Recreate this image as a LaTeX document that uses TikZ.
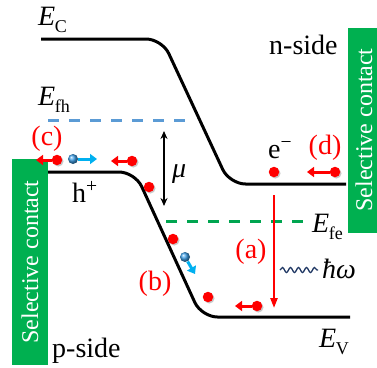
\documentclass[tikz,border=0pt]{standalone}
\usepackage{fontspec}
\setmainfont{LiberationSerif}[Extension=.ttf, UprightFont=*-Regular, ItalicFont=*-Italic, BoldFont=*-Bold, BoldItalicFont=*-BoldItalic]
\usetikzlibrary{arrows.meta,shadows,decorations.pathmorphing}
\definecolor{cgreen}{HTML}{00B050}
\definecolor{dashblue}{HTML}{5B9BD5}
\definecolor{dashgreen}{HTML}{00A550}
\definecolor{ballblue}{HTML}{3FA0E8}
\definecolor{arrblue}{HTML}{00B0F0}
\definecolor{navy}{HTML}{203864}
\definecolor{myred}{HTML}{FF0000}
\newcommand{\Elab}[1]{\textit{E}\kern-0.5pt\raisebox{-0.28em}{\fontsize{18}{18}\selectfont #1}}
\begin{document}
\begin{tikzpicture}[x=1pt,y=-1pt,
  band/.style={line width=3pt, rounded corners=16pt},
  fermi/.style={line width=3pt, dash pattern=on 11pt off 10pt},
  lbl/.style={font=\fontsize{28}{32}\selectfont, inner sep=0pt},
  redlbl/.style={lbl, text=myred},
  contact/.style={fill=cgreen, draw=none},
  contacttext/.style={font=\fontsize{24}{28}\selectfont, text=white, rotate=90, inner sep=0pt},
  rdot/.style={circle, fill=myred, inner sep=0pt, minimum size=10.5pt,
     drop shadow={shadow xshift=1.3pt, shadow yshift=-1.3pt, opacity=0.3, fill=black!70}},
  bdot/.style={circle, inner sep=0pt, minimum size=10pt, ball color=ballblue},
  rarr/.style={myred, line width=3pt, -{Triangle[length=7pt,width=10pt]}},
  barr/.style={arrblue, line width=3pt, -{Triangle[length=7pt,width=10pt]}}
]
\useasboundingbox (0,0) rectangle (377,367);

% contacts
\fill[contact] (12,159) rectangle (48,365);
\node[contacttext] (lct) at (30,262) {Selective contact};
\fill[contact] (348,28) rectangle (377,233);
\node[contacttext] (rct) at (364,130) {Selective contact};

% bands
\draw[band] (41,39) -- (162,39) -- (229.5,184) -- (346,184);
\draw[band] (48,172) -- (135,172) -- (201.5,317) -- (350,317);

% quasi-Fermi levels
\draw[fermi, dashblue] (48,120) -- (187,120);
\draw[fermi, dashgreen] (166,221) -- (306,221);

% level labels
\node[lbl, anchor=base west] (ec) at (38,25) {\Elab{C}};
\node[lbl, anchor=base west] (efh) at (38,105) {\Elab{fh}};
\node[lbl, anchor=base west] (efe) at (312,232) {\Elab{fe}};
\node[lbl, anchor=base west] (ev) at (319,347) {\Elab{V}};
\node[lbl, anchor=base west] (nside) at (269,54) {n-side};
\node[lbl, anchor=base west] (pside) at (52,357) {p-side};
\node[lbl, anchor=base west] (hp) at (72,202) {h\textsuperscript{+}};
\node[lbl, anchor=base west] (em) at (268,158) {e\textsuperscript{−}};
\node[lbl, anchor=base west] (mu) at (172,177) {\textit{μ}};
\node[lbl, anchor=base west] (hw) at (322,278) {\textit{ħω}};

% process labels
\node[redlbl] (la) at (251,252) {(a)};
\node[redlbl] (lb) at (155,284) {(b)};
\node[redlbl] (lc) at (47,139) {(c)};
\node[redlbl] (ld) at (325,148) {(d)};

% mu arrow
\coordinate (mutop) at (164,131);
\coordinate (mubot) at (164,206);
\draw[line width=1.5pt, {Stealth[length=8pt,width=7pt]}-{Stealth[length=8pt,width=7pt]}] (mutop) -- (mubot);

% recombination arrow (a)
\coordinate (atop) at (274,195);
\coordinate (abot) at (274,308);
\draw[myred, line width=2.2pt, -{Triangle[length=10pt,width=7pt]}] (atop) -- (abot);

% photon
\coordinate (ph1) at (280,270);
\coordinate (ph2) at (318,270);
\draw[navy, line width=1.3pt, decorate, decoration={snake, amplitude=2.5pt, segment length=8pt}] (ph1) -- (ph2);

% carriers
\node[rdot] (c1) at (57,160) {};
\coordinate (c1t) at (36,160);
\draw[rarr] (c1) -- (c1t);
\node[bdot] (b1) at (73,159) {};
\coordinate (b1t) at (97,159);
\draw[barr] (b1) -- (b1t);
\node[rdot] (c2) at (132,161) {};
\coordinate (c2t) at (111,161);
\draw[rarr] (c2) -- (c2t);
\node[rdot] (r1) at (149,187) {};
\node[rdot] (r2) at (173,239) {};
\node[bdot] (b2) at (185,257) {};
\coordinate (b2t) at (195,274);
\draw[barr] (b2) -- (b2t);
\node[rdot] (r3) at (208,297) {};
\node[rdot] (r4) at (257,306) {};
\coordinate (r4t) at (235,306);
\draw[rarr] (r4) -- (r4t);
\node[rdot] (e1) at (274,172) {};
\node[rdot] (d1) at (335,172) {};
\coordinate (d1t) at (307,172);
\draw[rarr] (d1) -- (d1t);
\end{tikzpicture}
\end{document}
